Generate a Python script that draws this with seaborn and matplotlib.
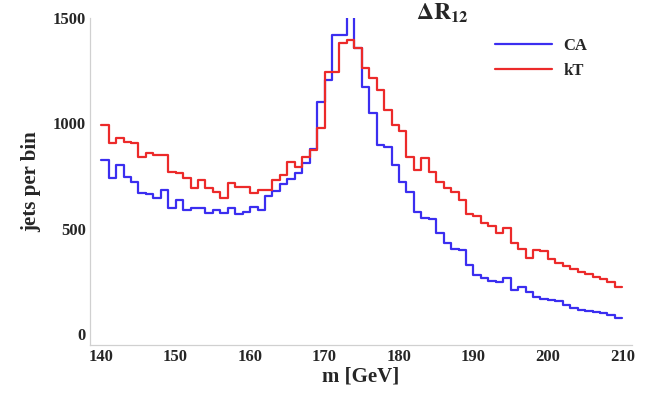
import numpy as np
import pandas as pd
import matplotlib
matplotlib.use("Agg")
import matplotlib.pyplot as plt
import seaborn as sns

# bin edges: 1 GeV bins from 140 to 210
bin_lo = 140
bin_hi = 210

ca_counts = [825, 740, 800, 745, 722, 669, 665, 646, 684, 598,
             636, 589, 598, 598, 575, 589, 575, 600, 570, 580,
             605, 590, 655, 680, 710, 735, 765, 810, 880, 1103,
             1206, 1419, 1419, 1560, 1356, 1174, 1049, 897, 890, 802,
             723, 676, 581, 549, 545, 480, 430, 405, 399, 327,
             280, 264, 250, 248, 264, 209, 225, 201, 178, 165,
             162, 156, 140, 125, 115, 110, 104, 98, 92, 78]

kt_counts = [990, 905, 930, 913, 905, 842, 858, 850, 850, 770,
             762, 740, 695, 730, 693, 676, 644, 715, 700, 700,
             668, 684, 684, 731, 755, 818, 795, 842, 873, 976,
             1245, 1245, 1380, 1396, 1356, 1261, 1214, 1158, 1063, 992,
             963, 842, 779, 836, 771, 723, 692, 676, 636, 570,
             560, 525, 515, 478, 502, 430, 405, 359, 399, 395,
             355, 335, 325, 310, 295, 285, 272, 260, 248, 222]

series_names = ["CA", "kT"]
x_ticks = [140, 150, 160, 170, 180, 190, 200, 210]
y_ticks = [0, 500, 1000, 1500]

centers = np.arange(bin_lo, bin_hi) + 0.5

df = pd.DataFrame({
    "m": np.concatenate([centers, centers]),
    "count": np.concatenate([ca_counts, kt_counts]).astype(float),
    "alg": [series_names[0]] * len(centers) + [series_names[1]] * len(centers),
})

sns.set_theme(style="white")
plt.rcParams["font.family"] = ["Liberation Serif", "DejaVu Serif"]
plt.rcParams["mathtext.fontset"] = "stix"

fig = plt.figure(figsize=(6.45, 3.98), dpi=100)
ax = fig.add_axes([90 / 645, 1 - 345 / 398, 542 / 645, (345 - 18) / 398])

colors = {"CA": "#3b2ef0", "kT": "#ec2a2a"}
for name in series_names:
    sub = df[df["alg"] == name]
    sns.histplot(data=sub, x="m", weights="count", binwidth=1,
                 binrange=(bin_lo, bin_hi), element="step",
                 fill=False, color=colors[name], linewidth=1.6, ax=ax, label=name)

ax.set_xlim(138.5, 211.3)
ax.set_ylim(-52, 1500)
ax.set_xticks(x_ticks)
ax.set_yticks(y_ticks)
ax.set_xticks(np.arange(140, 211, 2), minor=True)
ax.set_yticks(np.arange(0, 1501, 100), minor=True)
ax.tick_params(axis="both", which="major", direction="in", length=4, width=0.8,
               color="#c8c8c8", labelsize=12, pad=3)
ax.tick_params(axis="both", which="minor", direction="in", length=2, width=0.6,
               color="#d8d8d8")
for lab in ax.get_xticklabels() + ax.get_yticklabels():
    lab.set_fontweight("bold")

for side in ["top", "right"]:
    ax.spines[side].set_visible(False)
for side in ["left", "bottom"]:
    ax.spines[side].set_color("#d0d0d0")
    ax.spines[side].set_linewidth(0.9)

ax.set_xlabel("m [GeV]", fontsize=15, fontweight="bold", labelpad=1)
ax.set_ylabel("jets per bin", fontsize=15, fontweight="bold", labelpad=8)

leg = ax.legend(loc="upper right", bbox_to_anchor=(0.945, 0.985), frameon=False,
                handlelength=3.4, handletextpad=0.7,
                prop={"weight": "bold", "size": 12}, labelspacing=0.55)

fig.text(442 / 645, 1 - 13 / 398, r"$\mathbf{\Delta R_{12}}$", fontsize=17,
         ha="center", va="center")

fig.savefig("out.png", dpi=100)
